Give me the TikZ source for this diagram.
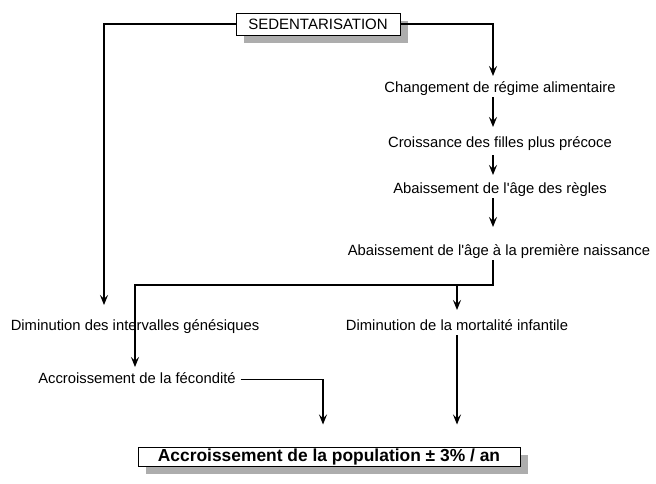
\documentclass[tikz,border=0pt]{standalone}
\usepackage{fontspec}
\setmainfont{Liberation Sans}[Ligatures=TeXOff]
\usetikzlibrary{arrows.meta,shadows}
\begin{document}
\begin{tikzpicture}[x=1pt,y=-1pt,
  lbl/.style={font=\fontsize{14.8}{16}\selectfont, inner sep=0pt, outer sep=0pt, text height=10.5pt, text depth=3pt, anchor=base},
  boxed/.style={draw, line width=1pt, fill=white, inner sep=0pt,
     drop shadow={shadow xshift=8pt, shadow yshift=-8pt, fill=black!32, opacity=1}},
  con/.style={line width=1.2pt, -{Stealth[length=10pt,width=8pt,inset=4pt]}}]
\useasboundingbox (0,0) rectangle (656,483);
\coordinate (rc) at (493,0);
\coordinate (lc) at (104,0);
\coordinate (mc) at (135,0);
\coordinate (fc) at (323,0);
\coordinate (jn) at (493,285);
\node[boxed, minimum width=164pt, minimum height=22pt, font=\fontsize{15}{16}\selectfont] (sed) at (318,24) {SEDENTARISATION};
\node[lbl] (ch) at (500,92) {Changement de régime alimentaire};
\node[lbl] (cr) at (500,147) {Croissance des filles plus précoce};
\node[lbl] (ab) at (500,193) {Abaissement de l'âge des règles};
\node[lbl] (an) at (499,255) {Abaissement de l'âge à la première naissance};
\node[lbl] (dim1) at (135,330) {Diminution des intervalles génésiques};
\node[lbl] (dim2) at (457,330) {Diminution de la mortalité infantile};
\node[lbl] (fec) at (137,383) {Accroissement de la fécondité};
\node[boxed, minimum width=382pt, minimum height=19pt, font=\bfseries\fontsize{17.4}{18}\selectfont] (pop) at (329,456.5) {Accroissement de la population ± 3\% / an};
\draw[con, shorten >=5.5pt] (sed.east) -| (ch.north -| rc);
\draw[con, shorten <=2pt, shorten >=9.5pt] (ch.south -| rc) -- (cr.north -| rc);
\draw[con, shorten <=5pt, shorten >=7.5pt] (cr.south -| rc) -- (ab.north -| rc);
\draw[con, shorten <=2pt, shorten >=17.5pt] (ab.south -| rc) -- (an.north -| rc);
\draw[con, shorten <=2pt, shorten >=5.5pt] (an.south -| rc) -- (jn) -| (fec.north -| mc);
\draw[con, shorten >=9.5pt] (jn -| dim2) -- (dim2.north);
\draw[con, shorten >=14.5pt] (sed.west) -| (dim1.north -| lc);
\draw[con, shorten <=5pt, shorten >=22pt] (fec.east) -| (pop.north -| fc);
\draw[con, shorten <=2pt, shorten >=22pt] (dim2.south) -- (pop.north -| dim2);
\end{tikzpicture}
\end{document}
